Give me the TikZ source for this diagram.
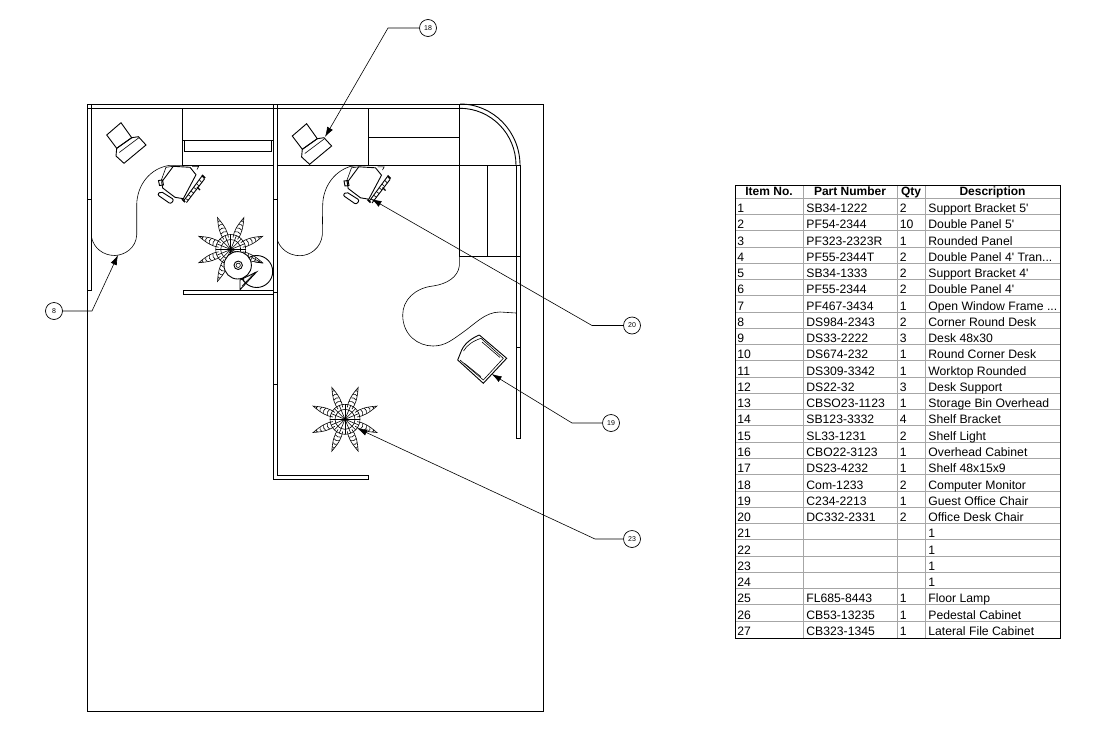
\documentclass[tikz,border=0pt]{standalone}
\usepackage{fontspec}
\newfontfamily\tabfont{Liberation Sans}
\usetikzlibrary{arrows.meta,calc}
\tikzset{%
    wal/.style={line width = 0.9pt},
    thn/.style={line width = 0.6pt},
    ldr/.style={line width = 0.6pt, -{Latex[length=10pt,width=6.5pt]}},
    bal/.style={circle,draw,line width = 0.7pt,fill=white,minimum size=17pt,inner sep=0pt,font=\tabfont\fontsize{7}{8}\selectfont},
    cel/.style={anchor=base west,inner sep=0pt,font=\tabfont\fontsize{12.2}{13}\selectfont},
    hed/.style={anchor=base,inner sep=0pt,font=\tabfont\bfseries\fontsize{12}{13}\selectfont},
    monitor/.pic={
        \draw [wal] (0,0)--(14.3,-12.3)--(25,2.7)--(10,13.3)--cycle;
        \draw [wal] (10,13.3)--(25,2.7)--(31.7,1.7)--(39.3,10)--(17.3,28.3)--(9.3,21)--cycle;
        \draw [thn] (12.5,17.5)--(32.5,2.5);
    },
    deskchair/.pic={
        \draw [wal,fill=white] (-4.7,-16.7)--(12,-15.7)--(18,-8.3)--(5.3,15.7)--(-3,14.3)--(-15.3,5)--(-16.3,-1)--cycle;
        \draw [thn] (-12,-15.7)--(-4.7,-16.7);
        \draw [thn] (-12,-15.7)--(-17,-2);
        \draw [wal] (-19.5,-2.5)--(-15.5,-3)--(-14.5,2)--(-18.5,2.5)--cycle;
        \draw [wal,rounded corners=2pt] (-20.7,11.7)--(-17.3,8.3)--(-4,16.7)--(-7.3,21)--cycle;
        \draw [thn] (14,-16.7)--(20.7,-16.7)--(19,-13.5);
        \draw [wal] (5.5,18)--(24,-7);
        \draw [wal] (8.5,19.5)--(26.5,-4);
        \foreach \t in {0.1,0.25,...,1}
            \draw [thn] ($(5.5,18)!\t!(24,-7)$)--($(8.5,19.5)!\t!(26.5,-4)$);
        \draw [line width = 1.6pt] (24,-8)--(27,-5);
        \draw [line width = 1.6pt] (4,16)--(7,19);
        \draw [line width = 1.4pt] (19,4)--(22,7);
    },
    plant/.pic={
        \foreach \a in {22.5,67.5,...,337.5}{
            \begin{scope}[rotate=\a]
                \draw [thn] (12,-2.5)..controls (18,-4) and (24,-3.5) ..(34.5,0)
                    ..controls (24,3.5) and (18,4) ..(12,2.5);
                \foreach \r/\w in {18/3,22/2.9,26/2.2,30/1.2}
                    \draw [thn] (\r,-\w)--(\r+1,0)--(\r,\w);
            \end{scope}
        }
        \draw [thn] (0,0) circle (15);
        \draw [thn] (0,0) circle (10);
        \foreach \a in {0,22.5,...,337.5}
            \draw [thn] (0,0)--(\a:15);
        \fill (0,0) circle (1.4);
    }
}

\begin{document}
\begin{tikzpicture}[x=1pt,y=-1pt,line width=0.8pt]
    \useasboundingbox (0,0) rectangle (1105,739);
    % room and panels
    \draw [wal] (87.5,104) rectangle (543,711);
    \draw [wal] (87.5,108)--(460,108);
    \draw [wal] (91.7,104)--(91.7,290)--(87.5,290);
    \draw [wal] (87.5,199)--(91.7,199);
    \draw [wal] (273.3,104)--(273.3,479)--(368.7,479)--(368.7,475)--(277.3,475)--(277.3,104);
    \draw [wal] (273.3,199)--(277.3,199);
    \draw [wal] (273.3,384)--(277.3,384);
    \draw [wal] (273.3,292)--(277.3,292);
    \draw [wal] (273.3,290.3)--(183.3,290.3)--(183.3,294.3)--(273.3,294.3);
    % first desk and shelf
    \draw [wal] (182.3,108)--(182.3,165.3)--(273.3,165.3);
    \draw [wal] (182.3,140.7)--(273.3,140.7);
    \draw [wal] (184.3,140.7) rectangle (271.7,151.7);
    \draw [thn] (182.3,165.3)--(170,165.3)..controls (150,168) and (137,185) ..(136.7,205)
        --(136.7,235)..controls (136,248) and (125,255) ..(115,255.5)
        ..controls (103,255.5) and (94,248) ..(91.7,238);
    % second desk and corner
    \draw [wal] (368.7,108)--(368.7,165.3);
    \draw [wal] (277.3,165.3)--(520,165.3);
    \draw [line width = 1.4pt] (368.7,137.7)--(459.3,137.7);
    \draw [wal] (459.3,104)--(459.3,256.3);
    \draw [wal] (487.3,165.3)--(487.3,256.3);
    \draw [wal] (459.3,256.3)--(520,256.3);
    \draw [wal] (460,104) arc (-90:0:60 and 61.3);
    \draw [wal] (460,108.3) arc (-90:0:56 and 57);
    \draw [wal] (516,165.3)--(516,438)--(520,438)--(520,165.3);
    \draw [wal] (516,347.7)--(520,347.7);
    \draw [thn] (360,165.3)--(350,166.5)..controls (333,172) and (323,188) ..(322.7,205)
        --(322.3,235)..controls (321,248) and (310,255.7) ..(300,255.7)
        ..controls (288,255.7) and (280,248) ..(277.3,240);
    \draw [thn] (459.3,256.3)--(459.3,266)..controls (458,277) and (447,284) ..(433,286)
        ..controls (415,288) and (402.7,300) ..(402.7,315)
        ..controls (402.7,335) and (418,346) ..(433,346)
        ..controls (445,346) and (452,340) ..(462,333)
        ..controls (475,324) and (485,312) ..(500,312)--(516,313);
    % furniture
    \pic at (106.7,135) {monitor};
    \pic at (292.3,136) {monitor};
    \pic at (178,183) {deskchair};
    \pic at (363.5,183.5) {deskchair};
    \pic at (345,419.3) {plant};
    \draw [wal] (256.7,271.5) circle (16);
    \draw [thn] (251.7,257.3)--(261.7,263)--(255,262);
    \pic at (230.7,249.5) {plant};
    \draw [wal,fill=white] (237.7,265.3) circle (13.7);
    \draw [wal] (238.2,265.3) circle (4.2);
    \draw [thn] (238.2,265.3) circle (2.2);
    \draw [wal] (240,280)--(240,289.7)--(256.5,272)--cycle;
    \draw [thn] (242,286)--(255,272.5);
    \draw [wal] (479.3,335)--(506.7,358.3)--(483.3,383.3)--(457.7,360)--(461.7,350)
        ..controls (465,343) and (472,338) ..(479.3,335);
    \draw [thn] (481,338.3)--(503.3,358.3)--(483.3,380)--(460,360);
    \draw [thn] (482,342)--(500,357.5);
    \draw [thn] (464.3,363.3)--(481,376.7);
    \draw [thn] (463.5,351)..controls (467,345) and (473,341) ..(481,338.3);
    % balloons
    \node [bal] (b18) at (428,28) {18};
    \node [bal] (b8) at (54,311) {8};
    \node [bal] (b20) at (632,325.5) {20};
    \node [bal] (b19) at (611,423) {19};
    \node [bal] (b23) at (632,539) {23};
    \coordinate (j18) at (388,28);
    \coordinate (t18) at (325,137);
    \coordinate (j8) at (92,311);
    \coordinate (t8) at (118,255);
    \coordinate (j20) at (592,325.5);
    \coordinate (t20) at (371.5,199);
    \coordinate (j19) at (572,423);
    \coordinate (t19) at (491.7,374);
    \coordinate (j23) at (595,539);
    \coordinate (t23) at (357.3,428.3);
    \draw [ldr] (b18)--(j18)--(t18);
    \draw [ldr] (b8)--(j8)--(t8);
    \draw [ldr] (b20)--(j20)--(t20);
    \draw [ldr] (b19)--(j19)--(t19);
    \draw [ldr] (b23)--(j23)--(t23);
    % parts table
    \foreach \i in {1,...,26}
        \draw [thn,gray!70] (735.5,198+16.27*\i)--(1060,198+16.27*\i);
    \draw [thn,gray!70] (735.5,198)--(1060,198);
    \foreach \x in {803,897,925}
        \draw [thn,gray!70] (\x,185)--(\x,638);
    \draw [wal] (735.5,185) rectangle (1060,638);
    \node [hed] (hitem) at (769,195.5) {Item No.};
    \node [hed] (hpart) at (850,195.5) {Part Number};
    \node [hed] (hqty) at (911,195.5) {Qty};
    \node [hed] (hdesc) at (992.5,195.5) {Description};
    \foreach \i/\p/\q/\d in {1/SB34-1222/2/Support Bracket 5',2/PF54-2344/10/Double Panel 5',
        3/PF323-2323R/1/Rounded Panel,4/PF55-2344T/2/Double Panel 4' Tran.{}.{}.,
        5/SB34-1333/2/Support Bracket 4',6/PF55-2344/2/Double Panel 4',
        7/PF467-3434/1/Open Window Frame .{}.{}.,8/DS984-2343/2/Corner Round Desk,
        9/DS33-2222/3/Desk 48x30,10/DS674-232/1/Round Corner Desk,
        11/DS309-3342/1/Worktop Rounded,12/DS22-32/3/Desk Support,
        13/CBSO23-1123/1/Storage Bin Overhead,14/SB123-3332/4/Shelf Bracket,
        15/SL33-1231/2/Shelf Light,16/CBO22-3123/1/Overhead Cabinet,
        17/DS23-4232/1/Shelf 48x15x9,18/Com-1233/2/Computer Monitor,
        19/C234-2213/1/Guest Office Chair,20/DC332-2331/2/Office Desk Chair,
        21///1/,22///1/,23///1/,24///1/,
        25/FL685-8443/1/Floor Lamp,26/CB53-13235/1/Pedestal Cabinet,
        27/CB323-1345/1/Lateral File Cabinet}{
        \pgfmathsetmacro\yb{196.2+16.27*\i}
        \node [cel] (n\i) at (737,\yb) {\i};
        \node [cel] (p\i) at (806,\yb) {\p};
        \node [cel] (q\i) at (899.5,\yb) {\q};
        \node [cel] (d\i) at (928,\yb) {\d};
    }
\end{tikzpicture}
\end{document}
